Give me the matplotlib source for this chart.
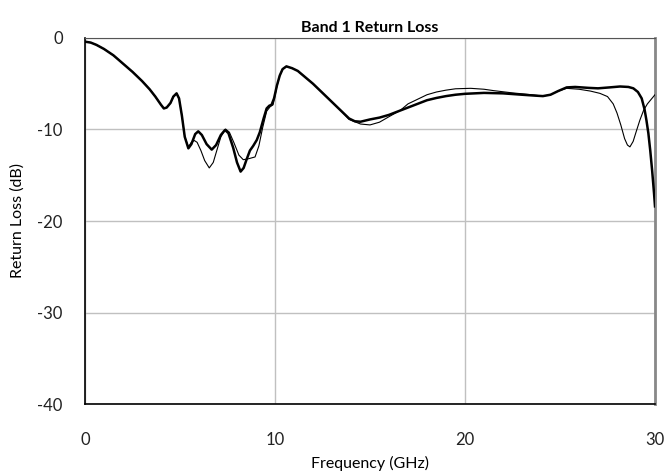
import matplotlib
matplotlib.use("Agg")
import matplotlib.pyplot as plt

plt.rcParams['font.family'] = ['Lato', 'DejaVu Sans']

# Thick curve (frequency GHz, return loss dB)
freq_a = [0, 0.3, 0.6, 1.0, 1.5, 2.0, 2.5, 3.0, 3.4, 3.7, 4.0, 4.15, 4.3, 4.5, 4.65,
          4.82, 4.95, 5.1, 5.25, 5.44, 5.6, 5.8, 5.96, 6.15, 6.4, 6.67, 6.9, 7.15,
          7.37, 7.55, 7.8, 8.0, 8.19, 8.35, 8.5, 8.68, 8.85, 9.04, 9.2, 9.4, 9.56,
          9.7, 9.82, 9.95, 10.1, 10.25, 10.4, 10.6, 10.9, 11.2, 11.6, 12.0, 12.5,
          13.0, 13.5, 13.9, 14.2, 14.5, 15.0, 15.5, 16.0, 16.5, 17.0, 17.5, 18.0,
          18.5, 19.0, 19.5, 20.0, 21.0, 22.0, 23.0, 23.7, 24.1, 24.5, 24.9, 25.35,
          25.8, 26.5, 27.0, 27.6, 28.16, 28.6, 28.86, 29.1, 29.3, 29.45, 29.55,
          29.65, 29.75, 29.85, 29.95, 30.0]
loss_a = [-0.4, -0.5, -0.75, -1.2, -1.9, -2.8, -3.7, -4.7, -5.6, -6.4, -7.3, -7.7,
          -7.6, -7.1, -6.4, -6.05, -6.6, -8.5, -10.8, -12.06, -11.6, -10.5, -10.2,
          -10.6, -11.6, -12.2, -11.7, -10.6, -10.05, -10.4, -12.0, -13.6, -14.6,
          -14.2, -13.3, -12.3, -11.8, -11.15, -10.3, -8.8, -7.7, -7.4, -7.3, -6.6,
          -5.2, -4.1, -3.4, -3.1, -3.3, -3.6, -4.3, -5.0, -6.0, -7.0, -8.0, -8.8,
          -9.1, -9.15, -8.9, -8.7, -8.4, -8.0, -7.6, -7.2, -6.8, -6.55, -6.35, -6.2,
          -6.1, -6.0, -6.05, -6.2, -6.3, -6.35, -6.2, -5.8, -5.4, -5.35, -5.45,
          -5.5, -5.4, -5.3, -5.35, -5.5, -5.9, -6.6, -7.8, -9.0, -10.4, -12.3,
          -14.5, -17.0, -18.4]

# Thin curve
freq_b = [0, 0.3, 0.6, 1.0, 1.5, 2.0, 2.5, 3.0, 3.4, 3.7, 4.0, 4.15, 4.3, 4.5, 4.65,
          4.82, 4.95, 5.1, 5.25, 5.44, 5.6, 5.75, 5.9, 6.1, 6.3, 6.54, 6.75, 6.95,
          7.15, 7.4, 7.6, 7.85, 8.1, 8.33, 8.6, 8.95, 9.15, 9.35, 9.56, 9.75, 9.9,
          10.1, 10.25, 10.4, 10.6, 10.9, 11.2, 11.6, 12.0, 12.5, 13.0, 13.5, 13.9,
          14.5, 15.0, 15.5, 16.0, 16.6, 17.0, 17.5, 18.0, 18.5, 19.0, 19.5, 20.3,
          21.0, 21.5, 22.5, 23.5, 24.1, 24.5, 24.9, 25.35, 26.0, 26.6, 27.1, 27.5,
          27.8, 28.0, 28.2, 28.4, 28.55, 28.68, 28.85, 29.0, 29.2, 29.4, 29.6,
          29.8, 30.0]
loss_b = [-0.4, -0.5, -0.75, -1.2, -1.9, -2.8, -3.7, -4.7, -5.6, -6.4, -7.3, -7.7,
          -7.6, -7.1, -6.4, -6.05, -6.6, -8.5, -10.8, -11.9, -11.4, -11.2, -11.4,
          -12.3, -13.4, -14.2, -13.6, -12.2, -10.8, -9.95, -10.3, -11.5, -12.8,
          -13.3, -13.2, -13.0, -11.8, -9.8, -8.0, -7.5, -7.3, -5.3, -4.1, -3.4,
          -3.1, -3.3, -3.6, -4.3, -5.0, -6.0, -7.0, -8.0, -8.9, -9.4, -9.5, -9.2,
          -8.6, -7.9, -7.2, -6.7, -6.2, -5.9, -5.7, -5.55, -5.5, -5.6, -5.75, -6.0,
          -6.2, -6.35, -6.2, -5.8, -5.5, -5.6, -5.8, -6.05, -6.4, -7.2, -8.2, -9.5,
          -11.0, -11.7, -11.9, -11.3, -10.3, -9.0, -7.9, -7.2, -6.7, -6.2]

x_ticks = [0, 10, 20, 30]
y_ticks = [0, -10, -20, -30, -40]

fig = plt.figure(figsize=(6.65, 4.76), dpi=100)
ax = fig.add_axes([85/665, 1 - 404/476, 570/665, 366/476])

ax.plot(freq_b, loss_b, color='black', linewidth=0.8, zorder=3)
ax.plot(freq_a, loss_a, color='black', linewidth=1.8, zorder=4)

ax.set_xlim(0, 30)
ax.set_ylim(-40, 0)
ax.set_xticks(x_ticks)
ax.set_yticks(y_ticks)
ax.set_xticklabels([str(v) for v in x_ticks])
ax.set_yticklabels([str(v) for v in y_ticks])
ax.grid(True, color='#c0c0c0', linewidth=1.0)
ax.set_axisbelow(True)
ax.tick_params(length=0, labelsize=12, colors='#222222')
ax.tick_params(axis='x', pad=20)
ax.tick_params(axis='y', pad=16)

for side in ['left', 'bottom']:
    ax.spines[side].set_color('black')
    ax.spines[side].set_linewidth(1.2)
ax.spines['top'].set_color('#555555')
ax.spines['right'].set_color('#888888')
ax.spines['right'].set_linewidth(2.0)

ax.set_title('Band 1 Return Loss', fontsize=11.5, fontweight='bold', pad=4)
ax.set_xlabel('Frequency (GHz)', fontsize=11.5, labelpad=6)
ax.set_ylabel('Return Loss (dB)', fontsize=11.5, labelpad=9)

fig.savefig('out.png', dpi=100)
